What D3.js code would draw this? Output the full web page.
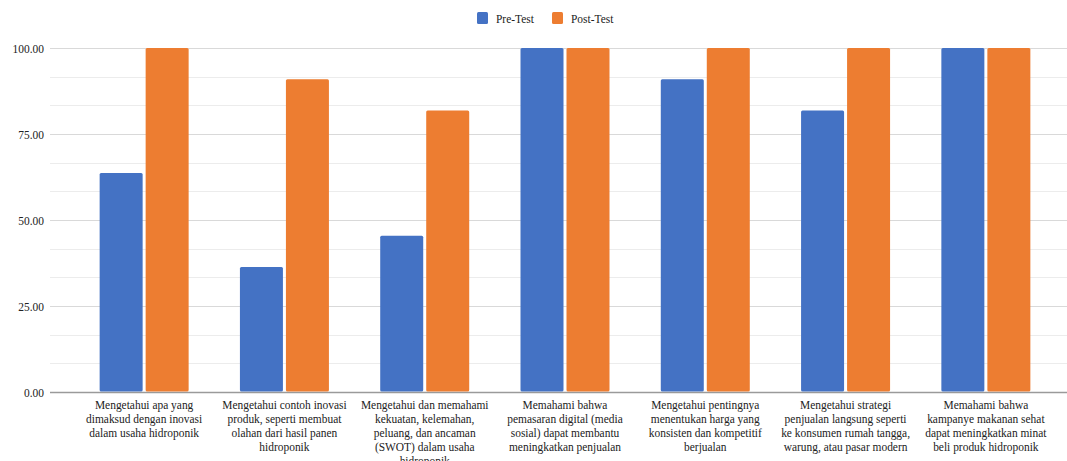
<!DOCTYPE html>
<html><head><meta charset="utf-8">
<script src="https://cdn.jsdelivr.net/npm/d3@7"></script>
<style>body{margin:0;background:#fff}svg{display:block}</style>
</head><body>
<svg id="c" width="1067" height="461"></svg>
<script>
const categories = [
  ["Mengetahui apa yang","dimaksud dengan inovasi","dalam usaha hidroponik"],
  ["Mengetahui contoh inovasi","produk, seperti membuat","olahan dari hasil panen","hidroponik"],
  ["Mengetahui dan memahami","kekuatan, kelemahan,","peluang, dan ancaman","(SWOT) dalam usaha","hidroponik"],
  ["Memahami bahwa","pemasaran digital (media","sosial) dapat membantu","meningkatkan penjualan"],
  ["Mengetahui pentingnya","menentukan harga yang","konsisten dan kompetitif","berjualan"],
  ["Mengetahui strategi","penjualan langsung seperti","ke konsumen rumah tangga,","warung, atau pasar modern"],
  ["Memahami bahwa","kampanye makanan sehat","dapat meningkatkan minat","beli produk hidroponik"]
];
const preTest  = [63.64, 36.36, 45.45, 100, 90.91, 81.82, 100];
const postTest = [100, 90.91, 81.82, 100, 100, 100, 100];
const seriesNames = ["Pre-Test", "Post-Test"];
const yTicks = [0, 25, 50, 75, 100];

const colors = ["#4472C4", "#ED7D31"];
const svg = d3.select("#c");
const font = "'Liberation Serif', 'Times New Roman', serif";
const sx = 0.88;

const y = d3.scaleLinear().domain([0, 100]).range([392, 48]);
const x = d3.scaleBand().domain(d3.range(categories.length)).range([74, 1056]).padding(0);

// minor gridlines
const minor = d3.range(0, 100.01, 25/3).filter(v => !yTicks.some(t => Math.abs(t - v) < 0.01));
svg.append("g").selectAll("line").data(minor).join("line")
  .attr("x1", 50).attr("x2", 1067)
  .attr("y1", d => Math.round(y(d)) + 0.5).attr("y2", d => Math.round(y(d)) + 0.5)
  .attr("stroke", "#ececec").attr("stroke-width", 1);

// major gridlines via axis
const yAxis = svg.append("g").attr("transform", "translate(50,0)")
  .call(d3.axisLeft(y).tickValues(yTicks).tickFormat(d3.format(".2f")).tickSize(-1017).tickPadding(5));
yAxis.select(".domain").remove();
yAxis.selectAll(".tick line").attr("stroke", d => d === 0 ? "#9a9a9a" : "#d9d9d9").attr("stroke-width", d => d === 0 ? 1.5 : 1.2);
yAxis.selectAll(".tick text").attr("font-family", font).attr("font-size", 13).attr("fill", "#222")
  .attr("x", 0).attr("transform", `translate(-6,0) scale(${sx},1)`);

// bars
const barW = 43;
const data = categories.map((c, i) => ({i, vals: [preTest[i], postTest[i]]}));
const g = svg.append("g");
data.forEach(d => {
  const cx = x(d.i) + x.bandwidth() / 2;
  d.vals.forEach((v, s) => {
    const x0 = s === 0 ? cx - 1.5 - barW : cx + 1.5;
    g.append("rect")
      .attr("x", x0).attr("width", barW)
      .attr("y", y(v)).attr("height", y(0) - y(v) - 0.5)
      .attr("rx", 1.5)
      .attr("fill", colors[s]);
  });
});

// category labels
const lab = svg.append("g");
categories.forEach((lines, i) => {
  const cx = x(i) + x.bandwidth() / 2;
  const t = lab.append("text").attr("text-anchor", "middle")
    .attr("transform", `translate(${cx},0) scale(${sx},1)`)
    .attr("font-family", font).attr("font-size", 13).attr("fill", "#222");
  lines.forEach((ln, k) => {
    t.append("tspan").attr("x", 0).attr("y", 409.5 + k * 13.8).text(ln);
  });
});

// legend
const leg = svg.append("g");
const legX = [477, 552];
seriesNames.forEach((n, s) => {
  leg.append("rect").attr("x", legX[s]).attr("y", 12).attr("width", 11).attr("height", 12)
    .attr("rx", 1.5).attr("fill", colors[s]);
  leg.append("text").attr("transform", `translate(${legX[s] + 19},22.5) scale(${sx},1)`)
    .attr("font-family", font).attr("font-size", 13).attr("fill", "#222").text(n);
});
</script>
</body></html>
